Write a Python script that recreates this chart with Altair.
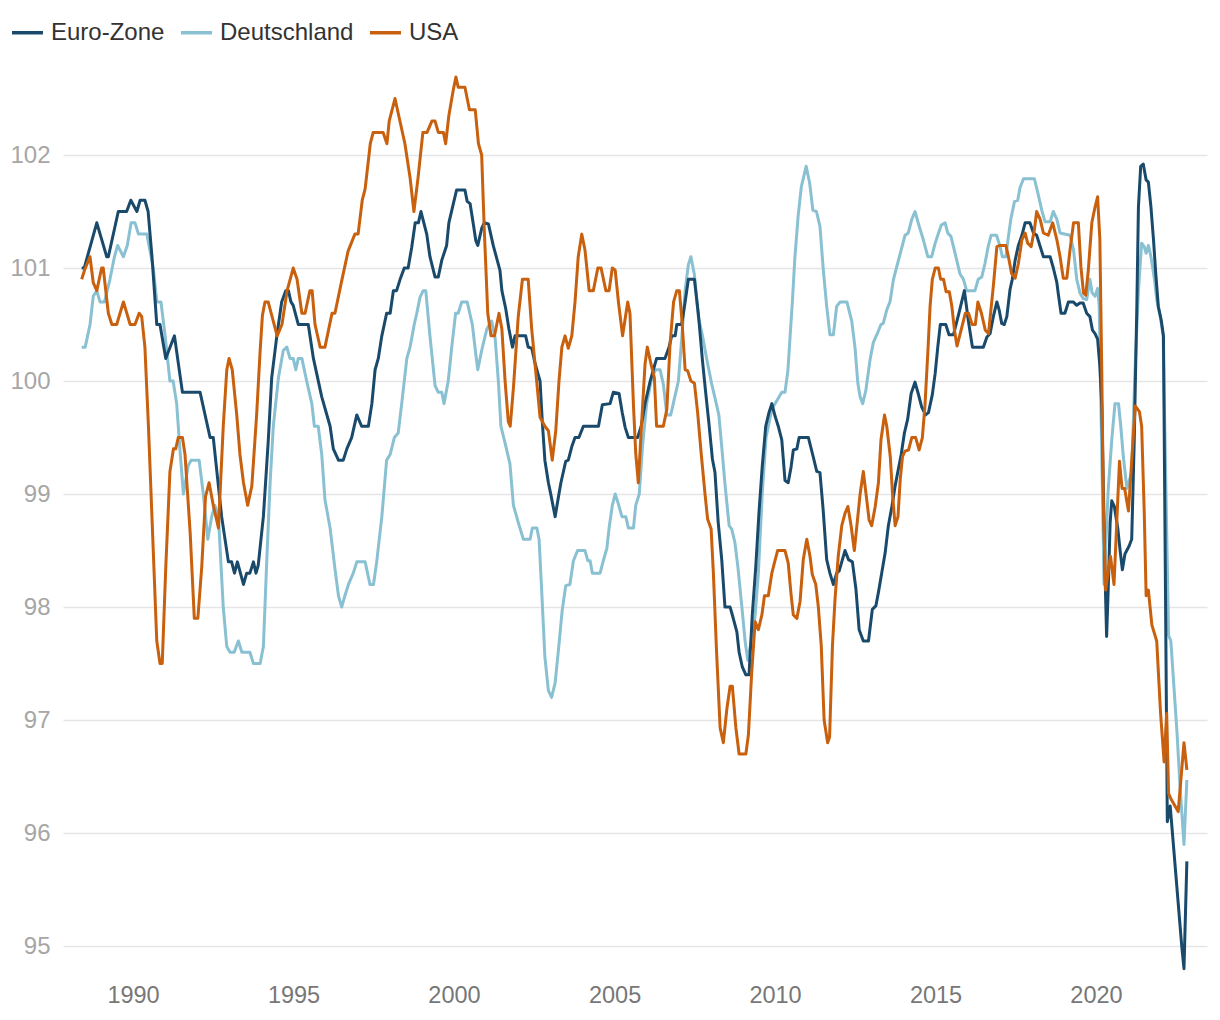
import altair as alt
import pandas as pd

series_names = ["Euro-Zone", "Deutschland", "USA"]
series_colors = ["#1a4a6b", "#89c0d2", "#c8600e"]
draw_order = ["Deutschland", "Euro-Zone", "USA"]
x_tick_years = [1990, 1995, 2000, 2005, 2010, 2015, 2020]
y_tick_values = [95, 96, 97, 98, 99, 100, 101, 102]

# (decimal year, index value)
euro_zone = [
    (1988.40, 101.0), (1988.48, 101.0), (1988.87, 101.4), (1989.18, 101.1), (1989.23, 101.1),
    (1989.54, 101.5), (1989.80, 101.5), (1989.93, 101.6), (1990.12, 101.5), (1990.22, 101.6),
    (1990.37, 101.6), (1990.47, 101.5), (1990.59, 101.1), (1990.74, 100.5), (1990.84, 100.5),
    (1991.02, 100.2), (1991.29, 100.4), (1991.54, 99.9), (1992.09, 99.9), (1992.40, 99.5),
    (1992.50, 99.5), (1992.76, 98.8), (1992.97, 98.4), (1993.07, 98.4), (1993.16, 98.3),
    (1993.25, 98.4), (1993.44, 98.2), (1993.54, 98.3), (1993.64, 98.3), (1993.75, 98.4),
    (1993.83, 98.3), (1993.90, 98.37), (1994.06, 98.8), (1994.21, 99.46), (1994.32, 100.03),
    (1994.48, 100.4), (1994.63, 100.7), (1994.76, 100.8), (1994.84, 100.8), (1994.92, 100.7),
    (1994.99, 100.67), (1995.15, 100.5), (1995.46, 100.5), (1995.62, 100.2), (1995.88, 99.86),
    (1996.14, 99.6), (1996.24, 99.4), (1996.40, 99.3), (1996.55, 99.3), (1996.66, 99.4),
    (1996.81, 99.5), (1996.97, 99.7), (1997.12, 99.6), (1997.33, 99.6), (1997.44, 99.8),
    (1997.54, 100.1), (1997.64, 100.2), (1997.75, 100.4), (1997.90, 100.6), (1998.01, 100.6),
    (1998.11, 100.8), (1998.21, 100.8), (1998.32, 100.9), (1998.45, 101.0), (1998.57, 101.0),
    (1998.68, 101.18), (1998.79, 101.4), (1998.89, 101.4), (1998.97, 101.5), (1999.15, 101.3),
    (1999.25, 101.1), (1999.41, 100.92), (1999.51, 100.92), (1999.62, 101.07), (1999.77, 101.2),
    (1999.84, 101.4), (1999.98, 101.57), (2000.08, 101.69), (2000.34, 101.69), (2000.41, 101.59),
    (2000.50, 101.57), (2000.60, 101.39), (2000.68, 101.24), (2000.74, 101.2), (2000.86, 101.35),
    (2000.94, 101.4), (2001.07, 101.39), (2001.22, 101.2), (2001.43, 100.98), (2001.49, 100.8),
    (2001.61, 100.64), (2001.71, 100.46), (2001.82, 100.3), (2001.90, 100.4), (2002.23, 100.4),
    (2002.31, 100.3), (2002.42, 100.29), (2002.52, 100.16), (2002.68, 100.0), (2002.75, 99.64),
    (2002.83, 99.3), (2002.94, 99.1), (2003.02, 98.99), (2003.15, 98.8), (2003.25, 98.97),
    (2003.33, 99.1), (2003.48, 99.29), (2003.56, 99.3), (2003.67, 99.42), (2003.77, 99.5),
    (2003.89, 99.5), (2004.03, 99.6), (2004.50, 99.6), (2004.62, 99.79), (2004.86, 99.8),
    (2004.96, 99.9), (2005.14, 99.89), (2005.24, 99.72), (2005.33, 99.59), (2005.43, 99.5),
    (2005.72, 99.5), (2005.83, 99.6), (2005.95, 99.8), (2006.11, 100.0), (2006.21, 100.1),
    (2006.31, 100.2), (2006.57, 100.2), (2006.70, 100.3), (2006.78, 100.4), (2006.89, 100.4),
    (2006.94, 100.5), (2007.09, 100.5), (2007.20, 100.7), (2007.30, 100.9), (2007.49, 100.9),
    (2007.61, 100.6), (2007.74, 100.18), (2007.84, 99.9), (2007.94, 99.63), (2008.05, 99.31),
    (2008.13, 99.19), (2008.23, 98.75), (2008.34, 98.42), (2008.44, 98.0), (2008.60, 98.0),
    (2008.67, 97.93), (2008.81, 97.78), (2008.88, 97.6), (2008.98, 97.47), (2009.09, 97.4),
    (2009.19, 97.4), (2009.29, 97.93), (2009.40, 98.36), (2009.50, 98.84), (2009.60, 99.24),
    (2009.71, 99.6), (2009.81, 99.72), (2009.90, 99.8), (2010.00, 99.69), (2010.10, 99.6),
    (2010.21, 99.48), (2010.31, 99.12), (2010.41, 99.1), (2010.50, 99.24), (2010.57, 99.39),
    (2010.68, 99.4), (2010.75, 99.5), (2011.04, 99.5), (2011.19, 99.33), (2011.30, 99.2),
    (2011.40, 99.19), (2011.50, 98.86), (2011.61, 98.42), (2011.71, 98.3), (2011.82, 98.2),
    (2011.92, 98.3), (2012.00, 98.32), (2012.18, 98.5), (2012.29, 98.42), (2012.41, 98.4),
    (2012.52, 98.16), (2012.62, 97.8), (2012.75, 97.7), (2012.91, 97.7), (2013.03, 97.98),
    (2013.14, 98.01), (2013.22, 98.13), (2013.34, 98.33), (2013.43, 98.48), (2013.53, 98.72),
    (2013.64, 98.89), (2013.74, 99.07), (2013.84, 99.22), (2013.93, 99.35), (2014.03, 99.54),
    (2014.13, 99.66), (2014.24, 99.89), (2014.36, 99.99), (2014.46, 99.89), (2014.57, 99.77),
    (2014.69, 99.7), (2014.78, 99.72), (2014.90, 99.88), (2014.99, 100.07), (2015.07, 100.3),
    (2015.15, 100.5), (2015.32, 100.5), (2015.42, 100.41), (2015.56, 100.41), (2015.73, 100.6),
    (2015.90, 100.8), (2016.02, 100.54), (2016.15, 100.3), (2016.49, 100.3), (2016.60, 100.39),
    (2016.70, 100.42), (2016.80, 100.57), (2016.91, 100.7), (2016.98, 100.63), (2017.06, 100.51),
    (2017.14, 100.5), (2017.22, 100.57), (2017.32, 100.81), (2017.39, 100.9), (2017.48, 101.07),
    (2017.58, 101.2), (2017.69, 101.29), (2017.79, 101.4), (2017.94, 101.4), (2018.05, 101.31),
    (2018.15, 101.29), (2018.26, 101.19), (2018.36, 101.1), (2018.57, 101.1), (2018.67, 101.0),
    (2018.78, 100.87), (2018.83, 100.76), (2018.91, 100.6), (2019.03, 100.6), (2019.14, 100.7),
    (2019.29, 100.7), (2019.40, 100.67), (2019.50, 100.69), (2019.60, 100.69), (2019.71, 100.6),
    (2019.81, 100.57), (2019.89, 100.45), (2019.97, 100.42), (2020.05, 100.37), (2020.12, 100.13),
    (2020.18, 99.78), (2020.23, 99.04), (2020.28, 98.3), (2020.33, 97.74), (2020.38, 98.16),
    (2020.44, 98.75), (2020.49, 98.94), (2020.57, 98.89), (2020.68, 98.69), (2020.75, 98.5),
    (2020.82, 98.33), (2020.90, 98.47), (2021.03, 98.54), (2021.11, 98.6), (2021.19, 99.48),
    (2021.27, 100.66), (2021.32, 101.54), (2021.39, 101.9), (2021.47, 101.92), (2021.56, 101.78),
    (2021.63, 101.76), (2021.71, 101.54), (2021.79, 101.25), (2021.86, 100.95), (2021.94, 100.66),
    (2022.03, 100.54), (2022.10, 100.4), (2022.22, 96.1), (2022.31, 96.24), (2022.67, 95.0),
    (2022.74, 94.8), (2022.83, 95.75),
]

deutschland = [
    (1988.40, 100.3), (1988.51, 100.3), (1988.66, 100.5), (1988.76, 100.75), (1988.87, 100.8),
    (1988.97, 100.7), (1989.11, 100.7), (1989.28, 100.9), (1989.42, 101.1), (1989.52, 101.2),
    (1989.70, 101.1), (1989.82, 101.2), (1989.94, 101.4), (1990.06, 101.4), (1990.17, 101.3),
    (1990.43, 101.3), (1990.63, 101.0), (1990.74, 100.7), (1990.87, 100.7), (1991.00, 100.4),
    (1991.15, 100.0), (1991.25, 100.0), (1991.36, 99.8), (1991.46, 99.4), (1991.57, 99.0),
    (1991.72, 99.25), (1991.81, 99.3), (1992.06, 99.3), (1992.19, 99.0), (1992.33, 98.6),
    (1992.45, 98.8), (1992.55, 98.9), (1992.66, 98.8), (1992.81, 98.0), (1992.92, 97.65),
    (1993.02, 97.6), (1993.15, 97.6), (1993.28, 97.7), (1993.39, 97.6), (1993.64, 97.6),
    (1993.75, 97.5), (1993.96, 97.5), (1994.06, 97.65), (1994.17, 98.44), (1994.27, 99.1),
    (1994.37, 99.6), (1994.53, 100.03), (1994.68, 100.27), (1994.79, 100.3), (1994.89, 100.2),
    (1994.99, 100.2), (1995.07, 100.1), (1995.15, 100.2), (1995.26, 100.2), (1995.41, 100.0),
    (1995.57, 99.8), (1995.65, 99.6), (1995.77, 99.6), (1995.88, 99.35), (1995.98, 98.95),
    (1996.14, 98.7), (1996.29, 98.34), (1996.40, 98.1), (1996.50, 98.0), (1996.60, 98.1),
    (1996.71, 98.2), (1996.86, 98.3), (1996.97, 98.4), (1997.23, 98.4), (1997.38, 98.2),
    (1997.49, 98.2), (1997.59, 98.4), (1997.75, 98.8), (1997.90, 99.3), (1998.01, 99.35),
    (1998.14, 99.5), (1998.26, 99.54), (1998.37, 99.8), (1998.53, 100.2), (1998.63, 100.3),
    (1998.76, 100.5), (1998.84, 100.6), (1998.94, 100.74), (1999.04, 100.8), (1999.12, 100.8),
    (1999.25, 100.4), (1999.41, 99.96), (1999.51, 99.9), (1999.62, 99.9), (1999.69, 99.8),
    (1999.82, 100.0), (1999.93, 100.3), (2000.05, 100.6), (2000.13, 100.6), (2000.24, 100.7),
    (2000.41, 100.7), (2000.57, 100.5), (2000.68, 100.23), (2000.74, 100.1), (2000.86, 100.27),
    (2001.02, 100.46), (2001.17, 100.53), (2001.28, 100.38), (2001.38, 100.0), (2001.46, 99.6),
    (2001.59, 99.45), (2001.74, 99.27), (2001.85, 98.9), (2002.00, 98.75), (2002.16, 98.6),
    (2002.37, 98.6), (2002.44, 98.7), (2002.58, 98.7), (2002.65, 98.6), (2002.73, 98.15),
    (2002.83, 97.56), (2002.94, 97.26), (2003.04, 97.2), (2003.15, 97.33), (2003.27, 97.67),
    (2003.37, 97.97), (2003.48, 98.19), (2003.61, 98.2), (2003.72, 98.41), (2003.85, 98.5),
    (2004.08, 98.5), (2004.17, 98.41), (2004.24, 98.41), (2004.31, 98.3), (2004.55, 98.3),
    (2004.65, 98.41), (2004.76, 98.52), (2004.83, 98.7), (2004.93, 98.9), (2005.02, 99.0),
    (2005.10, 98.93), (2005.23, 98.8), (2005.35, 98.8), (2005.43, 98.7), (2005.59, 98.7),
    (2005.66, 98.9), (2005.77, 99.0), (2005.87, 99.42), (2006.00, 99.8), (2006.16, 100.03),
    (2006.28, 100.1), (2006.42, 100.1), (2006.52, 99.97), (2006.63, 99.7), (2006.75, 99.7),
    (2006.83, 99.8), (2006.99, 100.0), (2007.09, 100.36), (2007.20, 100.8), (2007.30, 101.03),
    (2007.38, 101.1), (2007.49, 100.94), (2007.61, 100.57), (2007.74, 100.4), (2007.87, 100.2),
    (2008.03, 99.97), (2008.13, 99.85), (2008.25, 99.7), (2008.34, 99.42), (2008.44, 99.09),
    (2008.57, 98.72), (2008.65, 98.69), (2008.75, 98.57), (2008.84, 98.36), (2008.96, 98.02),
    (2009.07, 97.69), (2009.15, 97.53), (2009.27, 97.72), (2009.38, 97.93), (2009.48, 98.3),
    (2009.60, 99.0), (2009.72, 99.5), (2009.90, 99.75), (2010.21, 99.9), (2010.31, 99.9),
    (2010.40, 100.09), (2010.47, 100.4), (2010.54, 100.7), (2010.62, 101.1), (2010.72, 101.46),
    (2010.82, 101.72), (2010.97, 101.9), (2011.08, 101.75), (2011.18, 101.51), (2011.29, 101.5),
    (2011.40, 101.37), (2011.50, 101.0), (2011.61, 100.66), (2011.71, 100.41), (2011.82, 100.41),
    (2011.92, 100.66), (2012.03, 100.7), (2012.24, 100.7), (2012.39, 100.53), (2012.49, 100.3),
    (2012.58, 99.98), (2012.65, 99.86), (2012.73, 99.8), (2012.83, 99.92), (2012.96, 100.19),
    (2013.06, 100.34), (2013.17, 100.41), (2013.30, 100.5), (2013.37, 100.51), (2013.48, 100.63),
    (2013.58, 100.7), (2013.69, 100.9), (2013.79, 101.01), (2013.93, 101.16), (2014.05, 101.29),
    (2014.15, 101.31), (2014.26, 101.43), (2014.36, 101.5), (2014.46, 101.4), (2014.62, 101.25),
    (2014.76, 101.1), (2014.88, 101.1), (2014.99, 101.22), (2015.07, 101.29), (2015.18, 101.38),
    (2015.30, 101.4), (2015.38, 101.31), (2015.48, 101.28), (2015.61, 101.13), (2015.76, 100.95),
    (2015.87, 100.9), (2015.97, 100.8), (2016.23, 100.8), (2016.33, 100.9), (2016.44, 100.92),
    (2016.54, 101.04), (2016.64, 101.19), (2016.73, 101.29), (2016.90, 101.29), (2017.01, 101.19),
    (2017.08, 101.1), (2017.19, 101.1), (2017.27, 101.28), (2017.35, 101.44), (2017.46, 101.59),
    (2017.56, 101.6), (2017.63, 101.71), (2017.74, 101.79), (2018.08, 101.79), (2018.19, 101.66),
    (2018.31, 101.51), (2018.41, 101.41), (2018.57, 101.41), (2018.67, 101.5), (2018.78, 101.43),
    (2018.88, 101.31), (2019.19, 101.29), (2019.30, 101.16), (2019.40, 100.9), (2019.50, 100.78),
    (2019.60, 100.73), (2019.71, 100.72), (2019.81, 100.9), (2019.88, 100.78), (2019.97, 100.75),
    (2020.05, 100.82), (2020.10, 100.66), (2020.25, 98.2), (2020.38, 99.04), (2020.49, 99.48),
    (2020.59, 99.8), (2020.70, 99.8), (2020.77, 99.6), (2020.85, 99.33), (2020.96, 99.05),
    (2021.11, 99.19), (2021.21, 100.07), (2021.32, 100.8), (2021.42, 101.22), (2021.50, 101.19),
    (2021.56, 101.13), (2021.63, 101.2), (2021.71, 101.1), (2021.82, 100.9), (2021.89, 100.72),
    (2022.00, 100.57), (2022.09, 100.4), (2022.26, 97.75), (2022.33, 97.7), (2022.52, 96.9),
    (2022.62, 96.4), (2022.74, 95.9), (2022.83, 96.47),
]

usa = [
    (1988.40, 100.9), (1988.50, 100.99), (1988.66, 101.1), (1988.76, 100.87), (1988.87, 100.8),
    (1989.02, 101.0), (1989.07, 101.0), (1989.23, 100.6), (1989.34, 100.5), (1989.49, 100.5),
    (1989.70, 100.7), (1989.91, 100.5), (1990.06, 100.5), (1990.19, 100.6), (1990.27, 100.57),
    (1990.37, 100.3), (1990.48, 99.6), (1990.63, 98.5), (1990.74, 97.7), (1990.84, 97.5),
    (1990.91, 97.5), (1991.02, 98.35), (1991.15, 99.2), (1991.26, 99.4), (1991.33, 99.4),
    (1991.41, 99.5), (1991.54, 99.5), (1991.62, 99.35), (1991.78, 98.66), (1991.91, 97.9),
    (1992.02, 97.9), (1992.14, 98.35), (1992.26, 98.98), (1992.37, 99.1), (1992.50, 98.9),
    (1992.66, 98.7), (1992.81, 99.6), (1992.92, 100.1), (1992.99, 100.2), (1993.09, 100.1),
    (1993.23, 99.7), (1993.33, 99.35), (1993.44, 99.1), (1993.57, 98.9), (1993.70, 99.07),
    (1993.85, 99.7), (1993.96, 100.27), (1994.03, 100.58), (1994.11, 100.7), (1994.21, 100.7),
    (1994.49, 100.4), (1994.64, 100.5), (1994.80, 100.8), (1994.99, 101.0), (1995.11, 100.9),
    (1995.26, 100.6), (1995.36, 100.6), (1995.51, 100.8), (1995.58, 100.8), (1995.67, 100.5),
    (1995.83, 100.3), (1995.98, 100.3), (1996.20, 100.6), (1996.29, 100.6), (1996.51, 100.9),
    (1996.70, 101.15), (1996.91, 101.3), (1997.01, 101.3), (1997.14, 101.6), (1997.23, 101.7),
    (1997.39, 102.1), (1997.48, 102.2), (1997.79, 102.2), (1997.91, 102.1), (1997.98, 102.3),
    (1998.16, 102.5), (1998.47, 102.1), (1998.63, 101.8), (1998.75, 101.5), (1998.88, 101.8),
    (1999.03, 102.2), (1999.16, 102.2), (1999.31, 102.3), (1999.41, 102.3), (1999.51, 102.2),
    (1999.67, 102.2), (1999.74, 102.1), (1999.84, 102.35), (1999.98, 102.58), (2000.06, 102.69),
    (2000.13, 102.6), (2000.34, 102.6), (2000.48, 102.4), (2000.66, 102.4), (2000.76, 102.1),
    (2000.86, 102.0), (2000.94, 101.35), (2001.05, 100.6), (2001.15, 100.4), (2001.26, 100.4),
    (2001.40, 100.6), (2001.49, 100.46), (2001.59, 100.0), (2001.69, 99.64), (2001.75, 99.6),
    (2001.85, 99.94), (2002.00, 100.57), (2002.13, 100.9), (2002.31, 100.9), (2002.42, 100.46),
    (2002.52, 100.16), (2002.68, 99.68), (2002.83, 99.6), (2002.94, 99.56), (2003.06, 99.3),
    (2003.17, 99.56), (2003.27, 100.0), (2003.36, 100.3), (2003.46, 100.4), (2003.56, 100.29),
    (2003.67, 100.4), (2003.77, 100.7), (2003.87, 101.1), (2003.98, 101.3), (2004.08, 101.16),
    (2004.21, 100.8), (2004.34, 100.8), (2004.48, 101.0), (2004.58, 101.0), (2004.73, 100.8),
    (2004.83, 100.8), (2004.93, 101.0), (2005.02, 100.98), (2005.12, 100.7), (2005.25, 100.4),
    (2005.41, 100.7), (2005.48, 100.6), (2005.59, 99.78), (2005.66, 99.36), (2005.74, 99.1),
    (2005.85, 99.66), (2005.95, 100.15), (2006.02, 100.3), (2006.16, 100.12), (2006.24, 100.03),
    (2006.31, 99.6), (2006.52, 99.6), (2006.63, 99.75), (2006.73, 100.33), (2006.84, 100.7),
    (2006.94, 100.8), (2007.02, 100.8), (2007.10, 100.54), (2007.20, 100.1), (2007.28, 100.09),
    (2007.38, 100.0), (2007.49, 99.98), (2007.59, 99.72), (2007.70, 99.36), (2007.82, 99.0),
    (2007.90, 98.78), (2008.01, 98.69), (2008.08, 98.3), (2008.18, 97.6), (2008.29, 96.93),
    (2008.39, 96.8), (2008.50, 97.1), (2008.60, 97.3), (2008.67, 97.3), (2008.78, 96.93),
    (2008.88, 96.7), (2009.09, 96.7), (2009.17, 96.87), (2009.27, 97.41), (2009.38, 97.87),
    (2009.48, 97.8), (2009.59, 97.93), (2009.67, 98.1), (2009.79, 98.1), (2009.90, 98.3),
    (2009.98, 98.39), (2010.08, 98.5), (2010.31, 98.5), (2010.41, 98.39), (2010.50, 98.11),
    (2010.57, 97.93), (2010.68, 97.9), (2010.78, 98.05), (2010.88, 98.42), (2010.99, 98.6),
    (2011.09, 98.45), (2011.16, 98.29), (2011.27, 98.2), (2011.35, 98.0), (2011.44, 97.66),
    (2011.53, 97.0), (2011.64, 96.8), (2011.70, 96.85), (2011.79, 97.66), (2011.87, 98.07),
    (2011.97, 98.45), (2012.08, 98.72), (2012.18, 98.83), (2012.27, 98.89), (2012.37, 98.72),
    (2012.47, 98.5), (2012.55, 98.72), (2012.65, 99.0), (2012.75, 99.2), (2012.86, 98.94),
    (2012.93, 98.77), (2013.01, 98.72), (2013.12, 98.89), (2013.22, 99.1), (2013.30, 99.48),
    (2013.41, 99.7), (2013.48, 99.6), (2013.59, 99.33), (2013.66, 99.0), (2013.74, 98.72),
    (2013.83, 98.8), (2013.90, 99.13), (2013.97, 99.33), (2014.05, 99.38), (2014.16, 99.39),
    (2014.26, 99.5), (2014.38, 99.5), (2014.49, 99.39), (2014.59, 99.5), (2014.67, 99.78),
    (2014.76, 100.25), (2014.83, 100.66), (2014.90, 100.9), (2014.99, 101.0), (2015.09, 101.0),
    (2015.16, 100.9), (2015.25, 100.9), (2015.33, 100.79), (2015.43, 100.79), (2015.51, 100.66),
    (2015.59, 100.45), (2015.67, 100.31), (2015.77, 100.42), (2015.93, 100.6), (2016.03, 100.6),
    (2016.14, 100.5), (2016.24, 100.5), (2016.32, 100.7), (2016.43, 100.6), (2016.55, 100.45),
    (2016.65, 100.42), (2016.80, 100.84), (2016.91, 101.19), (2017.01, 101.2), (2017.19, 101.2),
    (2017.27, 101.1), (2017.37, 100.95), (2017.48, 100.91), (2017.58, 101.04), (2017.69, 101.25),
    (2017.79, 101.31), (2017.87, 101.22), (2017.98, 101.19), (2018.08, 101.34), (2018.15, 101.5),
    (2018.26, 101.43), (2018.36, 101.31), (2018.51, 101.29), (2018.65, 101.4), (2018.78, 101.25),
    (2018.88, 101.1), (2018.98, 100.91), (2019.09, 100.91), (2019.19, 101.16), (2019.30, 101.4),
    (2019.45, 101.4), (2019.53, 101.01), (2019.61, 100.78), (2019.68, 100.76), (2019.76, 100.98),
    (2019.87, 101.4), (2019.97, 101.54), (2020.05, 101.63), (2020.12, 101.25), (2020.18, 100.07),
    (2020.23, 98.89), (2020.30, 98.15), (2020.45, 98.45), (2020.56, 98.2), (2020.73, 99.29),
    (2020.81, 99.05), (2020.89, 99.05), (2021.01, 98.85), (2021.22, 99.78), (2021.35, 99.73),
    (2021.42, 99.6), (2021.50, 98.85), (2021.56, 98.1), (2021.63, 98.15), (2021.74, 97.84),
    (2021.89, 97.7), (2022.01, 97.06), (2022.12, 96.63), (2022.20, 97.06), (2022.26, 96.35),
    (2022.34, 96.3), (2022.56, 96.19), (2022.74, 96.8), (2022.83, 96.56),
]

FONT = "Liberation Sans"


def to_timestamp(t):
    year = int(t)
    start = pd.Timestamp(year=year, month=1, day=1)
    end = pd.Timestamp(year=year + 1, month=1, day=1)
    return (start + (end - start) * (t - year)).floor("min")


rows = []
for name, points in zip(series_names, [euro_zone, deutschland, usa]):
    for t, v in points:
        rows.append({"datum": to_timestamp(t), "wert": v, "reihe": name})
df = pd.DataFrame(rows)

color = alt.Color(
    "reihe:N",
    scale=alt.Scale(domain=series_names, range=series_colors),
    legend=alt.Legend(
        title=None,
        orient="none",
        legendX=-53,
        legendY=-27,
        direction="horizontal",
        symbolType="stroke",
        symbolSize=961,
        symbolStrokeWidth=3.5,
        labelFontSize=24,
        labelFont=FONT,
        labelColor="#333333",
        labelOffset=6,
        columnPadding=9,
        padding=0,
    ),
)

base = alt.Chart(df).mark_line(strokeWidth=3, strokeJoin="round").encode(
    x=alt.X(
        "datum:T",
        scale=alt.Scale(
            domain=[alt.DateTime(year=1987, month=10, date=27), alt.DateTime(year=2023, month=6, date=17)],
            nice=False,
        ),
        axis=alt.Axis(
            values=[alt.DateTime(year=y, month=1, date=1) for y in x_tick_years],
            format="%Y",
            title=None,
            grid=False,
            domain=False,
            ticks=False,
            labelFlush=False,
            labelFontSize=23.5,
            labelFont=FONT,
            labelColor="#777777",
            labelPadding=3,
        ),
    ),
    y=alt.Y(
        "wert:Q",
        scale=alt.Scale(domain=[94.7, 103.0], nice=False, zero=False),
        axis=alt.Axis(
            values=y_tick_values,
            title=None,
            domain=False,
            ticks=False,
            grid=True,
            gridColor="#e5e5e5",
            gridWidth=1.5,
            labelFontSize=24,
            labelFont=FONT,
            labelColor="#a6a6a6",
            labelPadding=13,
        ),
    ),
    color=color,
)

layers = [base.transform_filter(alt.datum.reihe == n) for n in draw_order]

chart = (
    alt.layer(*layers)
    .properties(
        width=1144,
        height=938,
        autosize=alt.AutoSizeParams(type="none"),
        padding={"left": 55, "top": 34, "right": 4, "bottom": 30},
    )
    .configure(font=FONT)
    .configure_view(strokeWidth=0, stroke="transparent")
)

chart.save("out.html", embed_options={"renderer": "svg", "actions": False})
